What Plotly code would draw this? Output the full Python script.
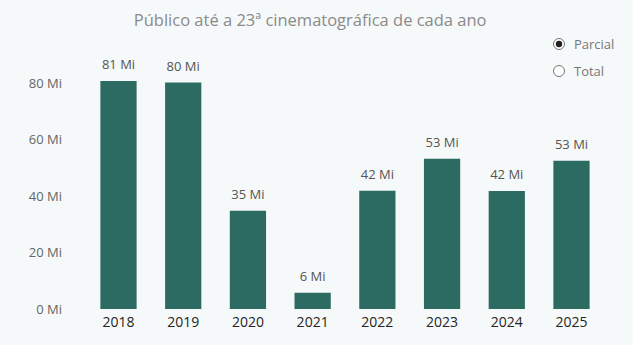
import plotly.graph_objects as go

years = ["2018", "2019", "2020", "2021", "2022", "2023", "2024", "2025"]
publico_mi = [80.8, 80.3, 34.8, 5.8, 41.9, 53.2, 41.8, 52.5]
y_ticks = [0, 20, 40, 60, 80]
y_tick_labels = ["0 Mi", "20 Mi", "40 Mi", "60 Mi", "80 Mi"]
legend_items = ["Parcial", "Total"]

BG = "#f6f9f9"
BAR = "#2b6b62"
FONT = "Segoe UI, Open Sans, DejaVu Sans, sans-serif"

fig = go.Figure()
fig.add_trace(go.Bar(
    x=years, y=publico_mi,
    marker=dict(color=BAR, line=dict(width=0)),
    width=0.56,
    hoverinfo="skip",
))
fig.add_trace(go.Scatter(
    x=years, y=publico_mi,
    mode="markers+text",
    marker=dict(size=12, color="rgba(0,0,0,0)"),
    texttemplate="%{y:.0f} Mi",
    textposition="top center",
    textfont=dict(color="#555555", size=13, family=FONT),
    cliponaxis=False,
    hoverinfo="skip",
))

fig.update_layout(
    width=633, height=345,
    margin=dict(l=85, r=28, t=55, b=36),
    paper_bgcolor=BG, plot_bgcolor=BG,
    showlegend=False,
    title=dict(text="Público até a 23ª cinematográfica de cada ano",
               x=0.49, xanchor="center", y=0.942, yanchor="middle",
               font=dict(size=16.5, color="#8a8a8a", family=FONT)),
    xaxis=dict(type="category", showgrid=False, showline=False, ticks="",
               ticklabelstandoff=3,
               tickfont=dict(size=14, color="#252423", family=FONT)),
    yaxis=dict(range=[0, 90], tickvals=y_ticks, ticktext=y_tick_labels,
               showgrid=False, zeroline=False, showline=False, ticks="",
               ticklabelstandoff=22,
               tickfont=dict(size=13, color="#666666", family=FONT)),
)

# radio-button legend
ys = [44, 71]
for i, (lab, yp) in enumerate(zip(legend_items, ys)):
    ypaper = (345 - 36 - yp) / (345 - 55 - 36)
    xpaper = (559 - 85) / (633 - 85 - 28)
    fig.add_shape(type="circle", xref="paper", yref="paper",
                  xsizemode="pixel", ysizemode="pixel",
                  xanchor=xpaper, yanchor=ypaper,
                  x0=-5.5, x1=5.5, y0=-5.5, y1=5.5,
                  line=dict(color="#777777", width=1),
                  fillcolor="white")
    if i == 0:
        fig.add_shape(type="circle", xref="paper", yref="paper",
                      xsizemode="pixel", ysizemode="pixel",
                      xanchor=xpaper, yanchor=ypaper,
                      x0=-3.2, x1=3.2, y0=-3.2, y1=3.2,
                      line=dict(width=0), fillcolor="#222222")
    fig.add_annotation(text=lab, xref="paper", yref="paper",
                       x=(572 - 85) / (633 - 85 - 28), y=ypaper,
                       xanchor="left", yanchor="middle", showarrow=False,
                       font=dict(size=13, color="#777777", family=FONT))

fig.write_html("out.html")
